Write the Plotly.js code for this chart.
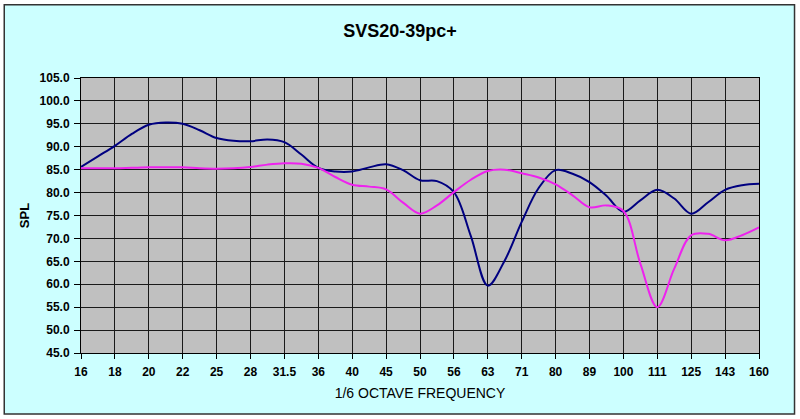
<!DOCTYPE html>
<html>
<head>
<meta charset="utf-8">
<script src="https://cdn.plot.ly/plotly-3.0.1.min.js"></script>
<style>
  html, body { margin: 0; padding: 0; background: #ffffff; }
  #chart { width: 800px; height: 419px; }
</style>
</head>
<body>
<div id="chart"></div>
<script>
// 1/6 octave frequency labels (one per gridline)
const freqLabels = ["16", "18", "20", "22", "25", "28", "31.5", "36", "40", "45",
  "50", "56", "63", "71", "80", "89", "100", "111", "125", "143", "160"];

// readings taken every half label step (1/12 octave)
const navySpl = [85.6, 87.9, 90.2, 92.8, 94.8, 95.3, 95.0, 93.6, 91.9, 91.3,
  91.2, 91.6, 91.0, 88.3, 85.4, 84.6, 84.6, 85.5, 86.2, 84.9,
  82.7, 82.5, 80.1, 70.5, 59.7, 65.2, 73.6, 81.0, 84.9, 84.1,
  82.3, 79.3, 75.8, 78.3, 80.6, 78.7, 75.4, 77.9, 80.6, 81.6, 81.9];

const magentaSpl = [85.3, 85.3, 85.3, 85.4, 85.5, 85.5, 85.5, 85.3, 85.2, 85.3,
  85.6, 86.1, 86.4, 86.3, 85.4, 83.4, 81.7, 81.3, 80.7, 77.8,
  75.4, 77.2, 80.1, 82.8, 84.7, 85.0, 84.2, 83.3, 81.8, 79.4,
  76.8, 77.2, 76.0, 64.5, 55.0, 63.4, 70.7, 71.0, 69.6, 70.7, 72.4];

const tickPos = freqLabels.map((_, i) => i);
const samplePos = navySpl.map((_, i) => i / 2);

const font = "Arial, 'Liberation Sans', sans-serif";

const traces = [
  {
    x: samplePos, y: navySpl, type: "scatter", mode: "lines",
    line: { color: "#000080", width: 2, shape: "spline", smoothing: 1 },
    hoverinfo: "skip",
  },
  {
    x: samplePos, y: magentaSpl, type: "scatter", mode: "lines",
    line: { color: "#ee22ee", width: 2, shape: "spline", smoothing: 1 },
    hoverinfo: "skip",
  },
];

const layout = {
  width: 800, height: 419,
  margin: { l: 81, r: 41, t: 78, b: 66 },
  paper_bgcolor: "#ffffff",
  plot_bgcolor: "#c0c0c0",
  showlegend: false,
  title: {
    text: "<b>SVS20-39pc+</b>",
    font: { family: font, size: 18, color: "#000000" },
    xref: "container", x: 0.5, xanchor: "center",
    yref: "container", y: 0.926, yanchor: "middle",
  },
  xaxis: {
    range: [0, 20], tickvals: tickPos, ticktext: freqLabels,
    showgrid: true, gridcolor: "#1a1a1a", gridwidth: 1,
    showline: true, linecolor: "#000000", linewidth: 1, mirror: true,
    ticks: "outside", ticklen: 5, tickcolor: "#000000", ticklabelstandoff: 3,
    tickfont: { family: font, size: 12, color: "#000000", weight: "bold" },
    zeroline: false, fixedrange: true,
    title: {
      text: "1/6 OCTAVE FREQUENCY", standoff: 9,
      font: { family: font, size: 14, color: "#000000" },
    },
  },
  yaxis: {
    range: [45, 105], dtick: 5, tick0: 45, tickformat: ".1f",
    showgrid: true, gridcolor: "#1a1a1a", gridwidth: 1,
    showline: true, linecolor: "#000000", linewidth: 1, mirror: true,
    ticks: "outside", ticklen: 6, tickcolor: "#000000", ticklabelstandoff: 2,
    tickfont: { family: font, size: 12, color: "#000000", weight: "bold" },
    zeroline: false, fixedrange: true,
    title: {
      text: "<b>SPL</b>", standoff: 7,
      font: { family: font, size: 13, color: "#000000" },
    },
  },
  shapes: [
    {
      type: "rect", xref: "paper", yref: "paper", layer: "below",
      x0: -0.1132, x1: 1.0524, y0: -0.222, y1: 1.2668,
      fillcolor: "#ccffff", line: { color: "#333333", width: 1.5 },
    },
    {
      type: "rect", xref: "paper", yref: "paper", layer: "below",
      x0: 0, x1: 1, y0: 0, y1: 1,
      fillcolor: "#c0c0c0", line: { width: 0 },
    },
  ],
};

Plotly.newPlot("chart", traces, layout, { staticPlot: true, displayModeBar: false });
</script>
</body>
</html>
